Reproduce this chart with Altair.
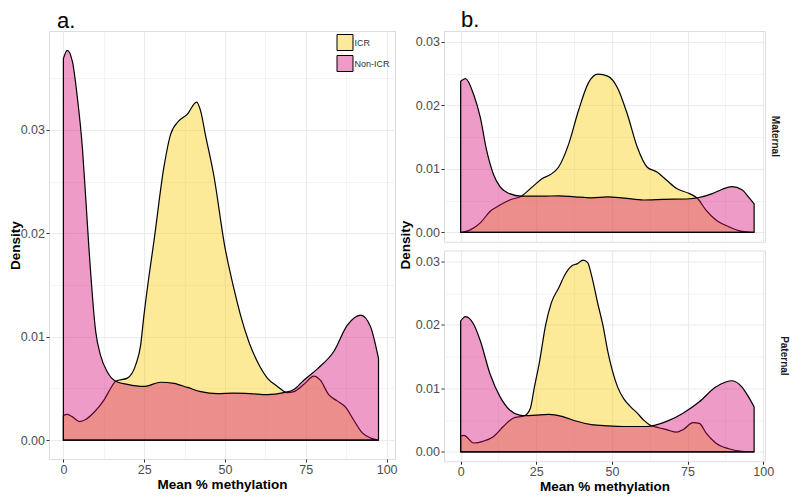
import altair as alt
import pandas as pd

FONT = "Liberation Sans"
GROUPS = ["ICR", "Non-ICR"]
FILLS = ["#F8CB00", "#D50576"]          # base colours, drawn at 40 % opacity
KEY_FILLS = ["#FCEA99", "#EE9BC8"]      # the same colours as they look at 40 % on white

# ---- panel a (all) ----
a_icr_x = [0, 1.1, 2.6, 5.0, 6.9, 9.5, 12.6, 14.6, 16.2, 19.8, 22.4, 23.9, 24.9, 26.5, 28.0, 31.1, 33.2, 35.8, 38.3, 41.2,
           42.5, 43.9, 46.6, 49.9, 52.8, 54.8, 57.4, 60.0, 63.1, 66.2, 69.3, 71.3, 74.4, 77.5, 79.5, 82.1, 84.7, 87.3, 89.9, 92.5,
           95.1, 97.5]
a_icr_d = [0.0024, 0.0025, 0.0023, 0.0018, 0.0020, 0.0027, 0.0039, 0.0050, 0.0057, 0.0060, 0.0073, 0.0092, 0.0120, 0.0159,
           0.0192, 0.0264, 0.0296, 0.0309, 0.0315, 0.0327, 0.0318, 0.0296, 0.0255, 0.0188, 0.0146, 0.0121, 0.0095, 0.0076,
           0.0060, 0.0052, 0.0046, 0.0047, 0.0054, 0.0062, 0.0058, 0.0044, 0.0038, 0.0032, 0.0019, 0.0007, 0.0002, 0.0]
a_non_x = [0, 1.2, 2.8, 4.3, 5.9, 6.9, 7.9, 10.0, 11.5, 13.6, 16.2, 19.8, 24.9, 30.1, 34.2, 38.4, 42.5, 47.6, 52.8, 57.9,
           63.1, 68.2, 71.3, 74.4, 78.6, 83.7, 87.8, 92.0, 95.0, 97.5]
a_non_d = [0.0369, 0.0377, 0.0366, 0.0332, 0.0282, 0.0235, 0.0186, 0.0105, 0.0082, 0.0066, 0.0057, 0.0054, 0.0052, 0.0056,
           0.0055, 0.0051, 0.0047, 0.0045, 0.00455, 0.0045, 0.0044, 0.0046, 0.0049, 0.0058, 0.0069, 0.0086, 0.0111, 0.0121,
           0.0110, 0.0079]

# ---- panel b, Maternal ----
m_icr_x = [0, 3.2, 6.5, 9.7, 13.0, 16.2, 20.0, 23.8, 27.0, 29.7, 32.4, 35.7, 38.9, 42.2, 45.4, 48.6, 51.9, 55.1, 58.4, 61.6,
           64.9, 68.1, 71.4, 75.7, 78.4, 81.1, 84.3, 88.6, 93.0, 97.0]
m_icr_d = [0.0, 0.0004, 0.0015, 0.0033, 0.0043, 0.0051, 0.0057, 0.0072, 0.0085, 0.0091, 0.0103, 0.0139, 0.0191, 0.0235,
           0.0249, 0.0246, 0.0227, 0.0186, 0.0134, 0.0103, 0.0095, 0.0082, 0.0069, 0.0061, 0.0053, 0.0035, 0.0020, 0.0009,
           0.00015, 0.0]
m_non_x = [0, 1.6, 4.3, 6.5, 8.6, 10.8, 13.0, 16.2, 20.0, 27.0, 32.4, 37.8, 43.2, 48.6, 54.0, 60.5, 67.0, 75.7, 78.4, 83.2,
           86.5, 89.7, 93.0, 95.1, 97.0]
m_non_d = [0.0238, 0.0242, 0.0217, 0.0181, 0.0129, 0.0092, 0.0072, 0.0061, 0.0057, 0.0057, 0.00576, 0.0056, 0.00545, 0.0056,
           0.0054, 0.0051, 0.0052, 0.0053, 0.00545, 0.0061, 0.0068, 0.0072, 0.0067, 0.0056, 0.0045]

# ---- panel b, Paternal ----
p_icr_x = [0, 1.1, 4.3, 7.6, 10.8, 14.1, 17.3, 21.1, 23.0, 24.3, 26.0, 28.1, 30.0, 32.4, 34.6, 36.8, 38.5, 40.5, 42.0, 43.2,
           45.4, 47.0, 48.6, 51.9, 54.0, 56.2, 58.4, 60.5, 62.7, 65.5, 68.1, 71.4, 73.5, 76.8, 78.9, 81.1, 84.3, 88.6, 93.0,
           97.0]
p_icr_d = [0.0025, 0.0026, 0.0014, 0.0017, 0.0024, 0.0040, 0.0053, 0.0057, 0.0068, 0.0100, 0.0140, 0.0200, 0.0235, 0.0258,
           0.0280, 0.0293, 0.0296, 0.0302, 0.0298, 0.0279, 0.0232, 0.0200, 0.0159, 0.0102, 0.0083, 0.0071, 0.0061, 0.0050,
           0.0042, 0.0038, 0.0035, 0.0031, 0.0035, 0.0046, 0.0045, 0.0030, 0.0014, 0.0005, 0.0001, 0.0]
p_non_x = [0, 1.6, 4.3, 6.5, 9.7, 13.0, 16.2, 19.5, 21.6, 24.9, 29.2, 33.5, 37.8, 43.2, 48.6, 54.0, 61.6, 68.1, 73.5, 78.9,
           84.3, 87.6, 89.7, 93.0, 95.1, 97.0]
p_non_d = [0.0206, 0.0213, 0.0201, 0.0175, 0.0123, 0.0087, 0.0066, 0.0058, 0.0057, 0.0058, 0.0059, 0.0056, 0.0049, 0.0043,
           0.0041, 0.0040, 0.0040, 0.0048, 0.0061, 0.0079, 0.0102, 0.0110, 0.0112, 0.0102, 0.0087, 0.0071]

x_ticks = [0, 12.5, 25, 37.5, 50, 62.5, 75, 87.5, 100]
y_ticks = [0, 0.005, 0.01, 0.015, 0.02, 0.025, 0.03, 0.035]

X_MAJOR = "datum.value % 25 === 0"
Y_MAJOR = "abs(round(datum.value * 1000)) % 10 === 0"


def frame(icr_x, icr_d, non_x, non_d):
    return pd.concat([
        pd.DataFrame({"meth": icr_x, "density": icr_d, "region": "ICR"}),
        pd.DataFrame({"meth": non_x, "density": non_d, "region": "Non-ICR"}),
    ], ignore_index=True)


def x_axis(show):
    common = dict(
        values=x_ticks, grid=True, domain=False, labelOverlap=False, labelFlush=False,
        gridColor="#EBEBEB",
        gridWidth={"condition": {"test": X_MAJOR, "value": 1.1}, "value": 0.55},
    )
    if show:
        return alt.Axis(
            title="Mean % methylation", titleFont=FONT, titleFontSize=13.5, titleFontWeight="bold",
            titleColor="black", titlePadding=1,
            labelExpr="datum.value % 25 === 0 ? format(datum.value, 'd') : ''",
            labelFont=FONT, labelFontSize=12.5, labelColor="#4D4D4D", labelPadding=1.5,
            tickSize=3, tickColor="#333333",
            tickOpacity={"condition": {"test": X_MAJOR, "value": 1}, "value": 0},
            **common)
    return alt.Axis(title=None, labels=False, ticks=False, **common)


def y_axis(title, tx, ty, maxv):
    vals = [v for v in y_ticks if v <= maxv]
    if title:
        kw = dict(title=title, titleFont=FONT, titleFontSize=13.5, titleFontWeight="bold", titleColor="black",
                  titleAngle=270, titleBaseline="alphabetic", titleAlign="center", titleX=tx, titleY=ty)
    else:
        kw = dict(title=None)
    return alt.Axis(
        values=vals, grid=True, domain=False, labelOverlap=False, labelFlush=False,
        labelExpr=Y_MAJOR + " ? format(datum.value, '.2f') : ''",
        labelFont=FONT, labelFontSize=12.5, labelColor="#4D4D4D", labelPadding=1.5,
        tickSize=3, tickColor="#333333",
        tickOpacity={"condition": {"test": Y_MAJOR, "value": 1}, "value": 0},
        gridColor="#EBEBEB",
        gridWidth={"condition": {"test": Y_MAJOR, "value": 1.1}, "value": 0.55},
        **kw)


def panel(df, width, height, xdom, ydom, show_x, yaxis, with_key=False):
    x = alt.X("meth:Q", scale=alt.Scale(domain=xdom, nice=False, zero=False), axis=x_axis(show_x))
    y = alt.Y("density:Q", scale=alt.Scale(domain=ydom, nice=False, zero=False), axis=yaxis, stack=None)
    area = alt.Chart(df).mark_area(
        interpolate="monotone", stroke="black", strokeWidth=1.2, fillOpacity=0.4
    ).encode(
        x=x, y=y, y2=alt.datum(0),
        color=alt.Color("region:N", scale=alt.Scale(domain=GROUPS, range=FILLS), legend=None),
    )
    if not with_key:
        return area.properties(width=width, height=height)
    key = alt.Chart(df).mark_square(size=0, opacity=1).encode(
        x=alt.X("meth:Q"), y=alt.Y("density:Q"),
        fill=alt.Fill("region:N", scale=alt.Scale(domain=GROUPS, range=KEY_FILLS), legend=alt.Legend(
            title=None, orient="none", legendX=287.5, legendY=3, symbolType="square", symbolSize=256,
            symbolStrokeColor="black", symbolStrokeWidth=1, symbolOpacity=1, labelFont=FONT, labelFontSize=9,
            labelColor="#333333", labelOffset=1, rowPadding=0, padding=0)),
    )
    return alt.layer(area, key).properties(width=width, height=height)


def strip(label, height):
    return alt.Chart(pd.DataFrame({"parent": [label]})).mark_text(
        angle=90, fontWeight="bold", fontSize=10, font=FONT, color="#1A1A1A"
    ).encode(text="parent:N").properties(width=16, height=height)


def letter(text, dx, offset):
    return alt.TitleParams(text, anchor="start", frame="group", dx=dx, offset=offset, fontSize=22,
                           font=FONT, fontWeight="normal", color="black")


A_W, A_H = 346, 428
B_GAP = 6.5
B_W, B_H = 321, (428 - 6.5) / 2
B_YDOM = [-0.00147, 0.0317]
B_XDOM = [-5.5, 100.6]

panel_a = panel(
    frame(a_icr_x, a_icr_d, a_non_x, a_non_d), A_W, A_H, [-4.45, 102.6], [-0.00182, 0.03957], True,
    y_axis("Density", -29.5, A_H / 2, 0.04), with_key=True,
).properties(title=letter("a.", 8, -1.6))

b_top = panel(
    frame(m_icr_x, m_icr_d, m_non_x, m_non_d), B_W, B_H, B_XDOM, B_YDOM, False,
    y_axis(None, 0, 0, 0.031),
)
b_bot = panel(
    frame(p_icr_x, p_icr_d, p_non_x, p_non_d), B_W, B_H, B_XDOM, B_YDOM, True,
    y_axis(None, 0, 0, 0.031),
)

row_top = alt.hconcat(b_top, strip("Maternal", B_H), spacing=1)
row_bot = alt.hconcat(b_bot, strip("Paternal", B_H), spacing=1)
b_rows = alt.vconcat(row_top, row_bot, spacing=B_GAP)

b_ytitle = alt.Chart(pd.DataFrame({"t": ["Density"]})).mark_text(
    angle=270, baseline="middle", align="center", fontWeight="bold", fontSize=13.5, font=FONT, color="black"
).encode(text="t:N").properties(width=14, height=2 * B_H + B_GAP, view=alt.ViewBackground(stroke="transparent"))

panel_b = alt.hconcat(b_ytitle, b_rows, spacing=0, title=letter("b.", 62, -1.0))

chart = alt.hconcat(panel_a, panel_b, spacing=0).resolve_scale(
    fill="independent"
).properties(padding=0).configure_view(stroke="#333333", strokeWidth=1).configure(font=FONT)

chart.save("out.html", embed_options={"renderer": "svg", "actions": False})
